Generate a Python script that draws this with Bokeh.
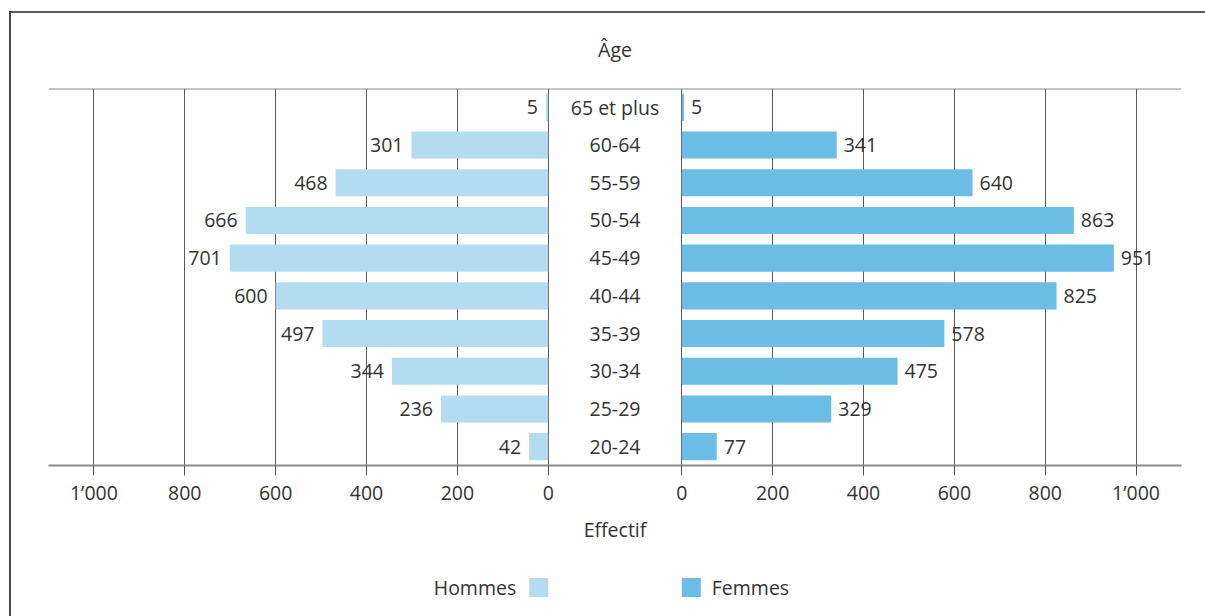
from bokeh.plotting import figure
from bokeh.layouts import column
from bokeh.models import FixedTicker, Span, FactorRange, ColumnDataSource, Range1d
from bokeh.core.properties import value
from bokeh.embed import file_html
from bokeh.resources import INLINE

# ---------------- data ----------------
ages = ["20-24", "25-29", "30-34", "35-39", "40-44", "45-49", "50-54", "55-59", "60-64", "65 et plus"]
hommes = [42, 236, 344, 497, 600, 701, 666, 468, 301, 5]
femmes = [77, 329, 475, 578, 825, 951, 863, 640, 341, 5]
tick_values = [0, 200, 400, 600, 800, 1000]
tick_labels = ["0", "200", "400", "600", "800", "1\u2019000"]
legend_labels = ["Hommes", "Femmes"]

# ---------------- layout constants ----------------
GAP = 147          # half-gap (data units) between the two halves
XR = 1247          # half width of x range
FONT = "Open Sans"
FS = "19.5px"
TXT = "#333333"
C_H = "#b4dcf0"
C_F = "#6bbde5"

W = 1205
H_MAIN, H_LEG = 560, 56
BL, BR, BT, BB = 48, 24, 88, 95
SX = (W - BL - BR) / (2 * XR)      # px per x unit

p = figure(width=W, height=H_MAIN, output_backend="svg", toolbar_location=None,
           x_range=Range1d(-XR, XR), y_range=FactorRange(*ages, range_padding=0),
           y_axis_location=None, min_border_left=BL, min_border_right=BR,
           min_border_top=BT, min_border_bottom=BB, title="\u00c2ge")
p.outline_line_color = None
p.background_fill_color = "white"
p.border_fill_alpha = 0
p.styles = {
    "background": "linear-gradient(#484848,#484848) 9px 11px / 2px 100% no-repeat, "
                  "linear-gradient(#5a5a5a,#5a5a5a) 9px 11px / 100% 2px no-repeat, #ffffff"
}

p.title.align = "center"
p.title.text_font = FONT
p.title.text_font_size = FS
p.title.text_font_style = "normal"
p.title.text_color = TXT
p.title.standoff = 52

# ---------------- axis / grid ----------------
ticks = [-(GAP + t) for t in tick_values] + [GAP + t for t in tick_values]
overrides = {}
for t, lab in zip(tick_values, tick_labels):
    overrides[-(GAP + t)] = lab
    overrides[GAP + t] = lab

ax = p.xaxis[0]
ax.ticker = FixedTicker(ticks=ticks)
ax.major_label_overrides = overrides
ax.axis_line_color = "#8c8c8c"
ax.axis_line_width = 2
ax.major_tick_line_color = "#555555"
ax.major_tick_in = 0
ax.major_tick_out = 10
ax.minor_tick_line_color = None
ax.major_label_text_font = FONT
ax.major_label_text_font_size = FS
ax.major_label_text_color = TXT
ax.major_label_standoff = 3
ax.axis_label = "Effectif"
ax.axis_label_text_font = FONT
ax.axis_label_text_font_size = FS
ax.axis_label_text_font_style = "normal"
ax.axis_label_text_color = TXT
ax.axis_label_standoff = 7

p.xgrid.ticker = FixedTicker(ticks=ticks)
p.xgrid.grid_line_color = "#5a5a5a"
p.xgrid.grid_line_width = 1
p.ygrid.grid_line_color = None

p.add_layout(Span(location=len(ages), dimension="width", line_color="#8c8c8c", line_width=2))

# ---------------- bars ----------------
src = ColumnDataSource(dict(
    age=ages,
    h_left=[-(GAP + v) for v in hommes],
    h_right=[-GAP] * len(ages),
    f_left=[GAP] * len(ages),
    f_right=[GAP + v for v in femmes],
    h_lab=[str(v) for v in hommes],
    f_lab=[str(v) for v in femmes],
    mid=[0] * len(ages),
))

p.hbar(y="age", left="h_left", right="h_right", height=0.72, source=src,
       fill_color=C_H, line_color=None)
p.hbar(y="age", left="f_left", right="f_right", height=0.72, source=src,
       fill_color=C_F, line_color=None)

p.text(x="h_left", y="age", text="h_lab", source=src, x_offset=-8,
       text_align="right", text_baseline="middle", text_font=value(FONT),
       text_font_size=FS, text_color=TXT)
p.text(x="f_right", y="age", text="f_lab", source=src, x_offset=7,
       text_align="left", text_baseline="middle", text_font=value(FONT),
       text_font_size=FS, text_color=TXT)
p.text(x="mid", y="age", text="age", source=src,
       text_align="center", text_baseline="middle", text_font=value(FONT),
       text_font_size=FS, text_color=TXT)

# ---------------- legend (separate strip below) ----------------
SW = 19
q = figure(width=W, height=H_LEG, output_backend="svg", toolbar_location=None,
           x_range=Range1d(-XR, XR), y_range=Range1d(0, 1),
           x_axis_location=None, y_axis_location=None,
           min_border_left=BL, min_border_right=BR, min_border_top=0, min_border_bottom=0)
q.outline_line_color = None
q.xgrid.grid_line_color = None
q.ygrid.grid_line_color = None
q.background_fill_color = "white"
q.border_fill_alpha = 0
q.styles = {
    "background": "linear-gradient(#484848,#484848) 9px 0 / 2px 100% no-repeat, #ffffff"
}

leg = ColumnDataSource(dict(
    x=[-GAP - SW / 2 / SX, GAP + SW / 2 / SX],
    y=[0.52, 0.52],
    c=[C_H, C_F],
    tx=[-GAP - SW / SX, GAP + SW / SX],
    lab=legend_labels,
    off=[-13, 11],
    al=["right", "left"],
))
q.rect(x="x", y="y", width=SW, height=SW, width_units="screen", height_units="screen",
       fill_color="c", line_color=None, source=leg)
q.text(x="tx", y="y", text="lab", x_offset="off", text_align="al", text_baseline="middle",
       text_font=value(FONT), text_font_size=FS, text_color=TXT, source=leg)

layout = column(p, q, spacing=0)
open("out.html", "w").write(file_html(layout, INLINE))
